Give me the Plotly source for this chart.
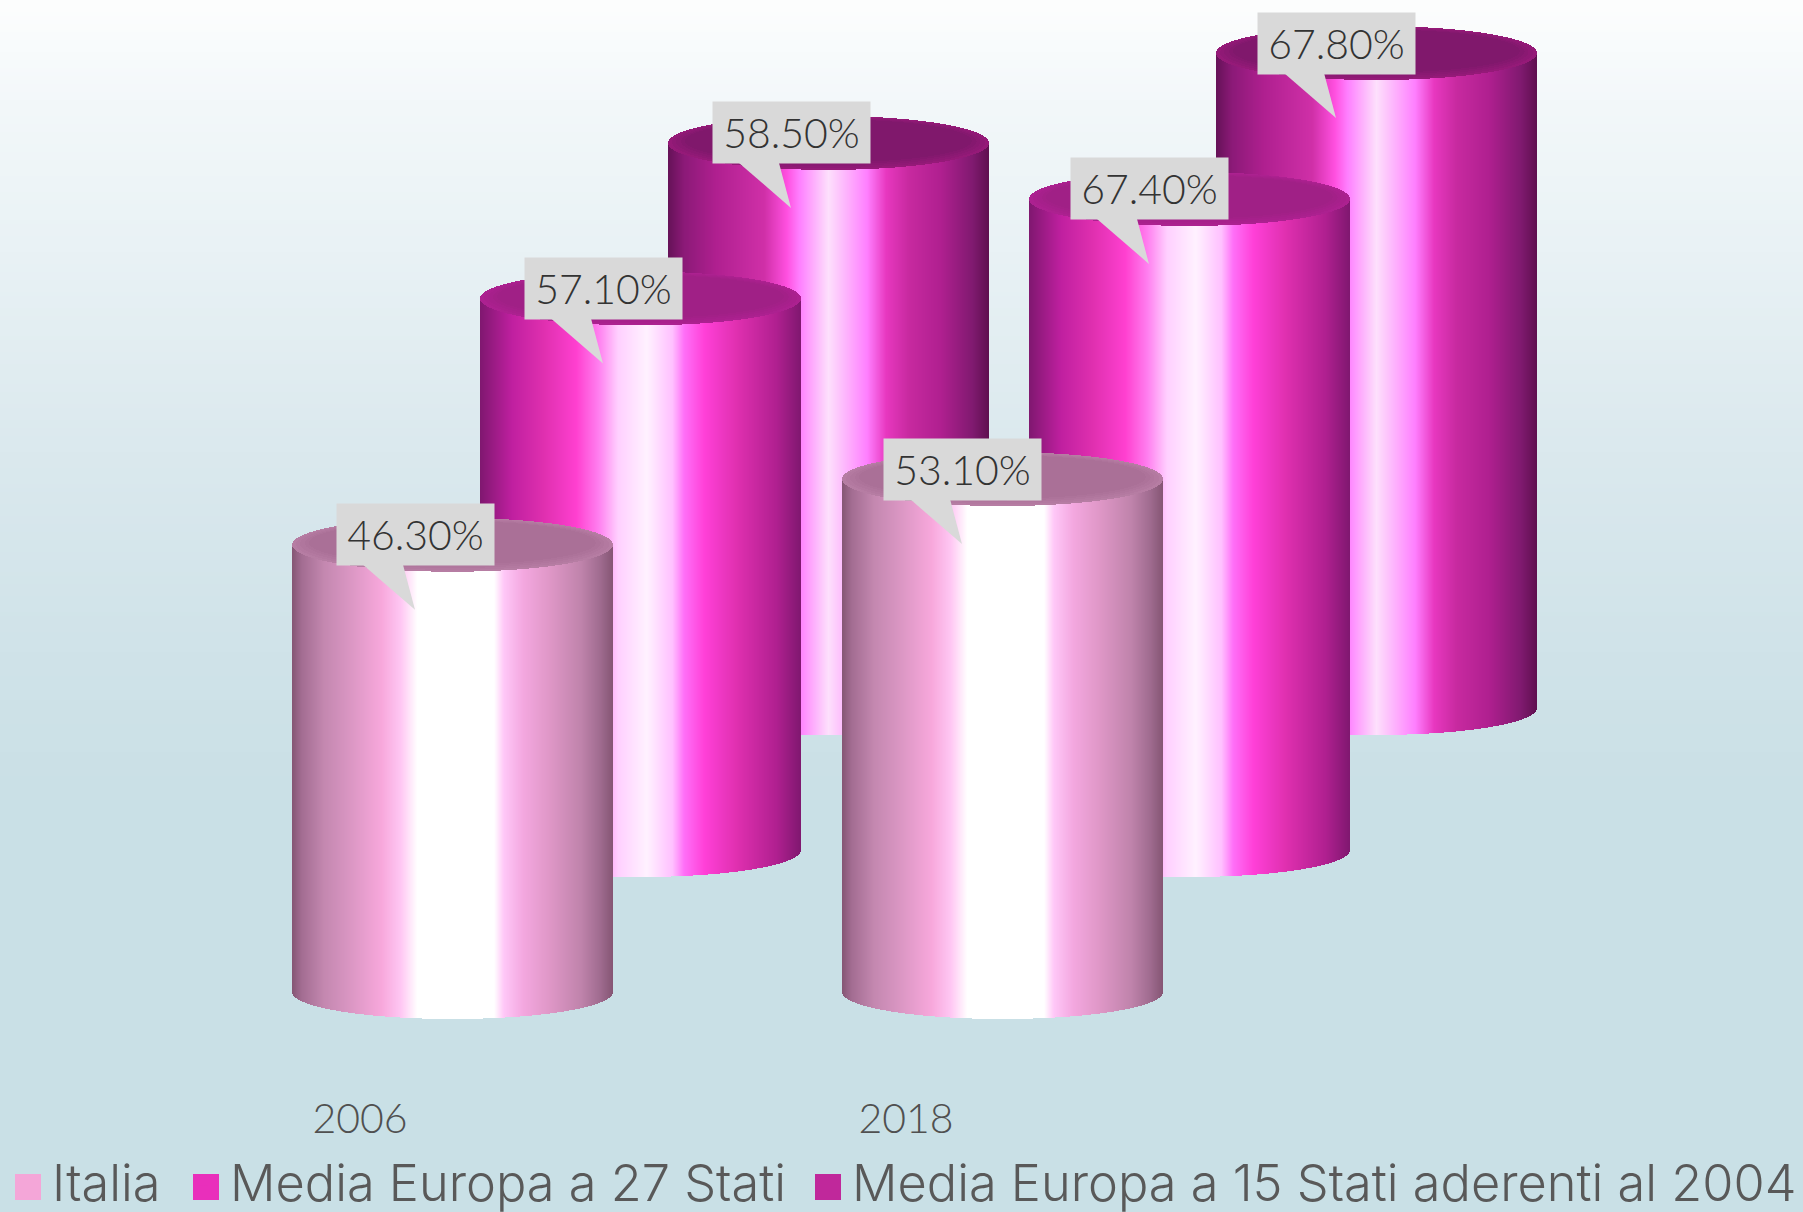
import numpy as np
import plotly.graph_objects as go

# ---------- data ----------
years = ["2006", "2018"]
series_names = ["Italia", "Media Europa a 27 Stati", "Media Europa a 15 Stati aderenti al 2004"]
italia = [46.3, 53.1]
media_27 = [57.1, 67.4]
media_15 = [58.5, 67.8]

# ---------- styles ----------
legend_colors = ["#f4a6d8", "#e92fbb", "#c0289b"]
TEXT = "#505050"
LEGEND_TEXT = "#595959"
LABEL_TEXT = "#333333"
LABEL_BG = "#d9d9d9"
FONT = "Lato"
LEGEND_FONT = "Inter"

side_stops = [
    [(0, "#855674"), (.03, "#a36d92"), (.1, "#c488b0"), (.2, "#e09ac8"), (.28, "#f8a8dc"), (.34, "#ffc8f4"),
     (.39, "#ffffff"), (.63, "#ffffff"), (.66, "#ffc8f8"), (.72, "#f4a8e0"), (.8, "#e098c8"), (.9, "#c084ac"),
     (.96, "#a06c90"), (1, "#855674")],
    [(0, "#801870"), (.1, "#c020a0"), (.2, "#e030b0"), (.3, "#ff40d0"), (.37, "#ff80f0"), (.43, "#ffd0ff"),
     (.52, "#fff2ff"), (.6, "#ffc0ff"), (.636, "#ff70f8"), (.7, "#ff40d8"), (.8, "#e030b0"), (.925, "#b02090"),
     (1, "#801870")],
    [(0, "#651258"), (.05, "#8c1a78"), (.15, "#b02090"), (.3, "#d030a8"), (.37, "#ff50e0"), (.41, "#ff80ff"),
     (.5, "#fde0fc"), (.62, "#ff80ff"), (.68, "#e838c0"), (.75, "#c82aa0"), (.85, "#b02090"), (.95, "#801a70"),
     (1, "#601050")],
]
top_outer = ["#b67da3", "#ac2190", "#951a78"]
top_inner = ["#aa7097", "#a02086", "#80186c"]

bg_stops = [(0, "#fdfefe"), (100, "#f3f8fa"), (250, "#e9f2f5"), (450, "#dbe9ee"), (650, "#d0e3e9"), (800, "#cae0e6"),
            (1212, "#c9e0e6")]
BOTTOM_BG = "#c9e0e6"

# ---------- geometry of the drawing (pixel scale of the value axis) ----------
W, H = 1803, 1212
PLOT_BOTTOM = 1079
PX_PER_UNIT = 9.66
BASE_PX = 992      # front row floor
X0 = [292, 842]    # left edge of the front cylinder per year
DX = [188, 187]    # depth step per series, per year
DY = 142
RX, RY = 160.5, 27
LABEL_DX = [45, 42]


def hex2rgb(h):
    return np.array([int(h[i:i + 2], 16) for i in (1, 3, 5)], float)


def grad(stops, t):
    ts = [s[0] for s in stops]
    cols = np.array([hex2rgb(s[1]) for s in stops])
    return np.array([np.interp(t, ts, cols[:, k]) for k in range(3)]).T


def css(a):
    return [f"rgb({int(r)},{int(g)},{int(b)})" for r, g, b in a]


def v_of_px(p):
    return (BASE_PX - p) / PX_PER_UNIT


U = 1 / PX_PER_UNIT
fig = go.Figure()

# background gradient
bg_y = np.arange(-2, PLOT_BOTTOM + 6, 4)
bg_cols = grad(bg_stops, bg_y)
fig.add_trace(go.Heatmap(
    x=[0, W], y=v_of_px(bg_y), z=[[i, i] for i in range(len(bg_y))],
    colorscale=[[i / (len(bg_y) - 1), c] for i, c in enumerate(css(bg_cols))],
    showscale=False, hoverinfo="skip", showlegend=False))

values = [italia, media_27, media_15]
labels = []

for s in (2, 1, 0):
    for yi in range(len(years)):
        val = values[s][yi]
        x_left = X0[yi] + s * DX[yi]
        floor = s * DY * U  # depth lift, in axis units
        cx = x_left + RX
        xs = np.arange(x_left + .5, x_left + 2 * RX, 1.0)
        t = (xs - x_left) / (2 * RX)
        arc = RY * np.sqrt(np.clip(1 - ((xs - cx) / RX) ** 2, 0, 1)) * U
        top = floor + val
        # side wall
        fig.add_trace(go.Bar(
            x=xs, y=(top - arc) - (floor - arc), base=floor - arc, width=1.0,
            marker=dict(color=css(grad(side_stops[s], t)), line=dict(width=0)),
            hoverinfo="skip", showlegend=False))
        # top cap: nested ellipses, rim to centre
        levels = 5
        for lv in range(levels):
            f = lv / (levels - 1)
            k = 1 - 0.11 * f
            c = (1 - f) * hex2rgb(top_outer[s]) + f * hex2rgb(top_inner[s])
            rx, ry = RX * k, RY * (1 - .2 * f)
            cy = top + 2 * f * U
            xl = np.arange(cx - rx + .5, cx + rx, 1.0)
            h = ry * np.sqrt(np.clip(1 - ((xl - cx) / rx) ** 2, 0, 1)) * U
            fig.add_trace(go.Bar(
                x=xl, y=2 * h, base=cy - h, width=1.0,
                marker=dict(color=css([c])[0], line=dict(width=0)),
                hoverinfo="skip", showlegend=False))
        labels.append((x_left + LABEL_DX[yi], top, val))

# callout pointers and boxes
annotations = []
for bx, top, val in labels:
    fig.add_trace(go.Scatter(
        x=[bx + 26, bx + 66, bx + 78, bx + 26], y=[top - 20 * U, top - 20 * U, top - 65 * U, top - 20 * U],
        mode="lines", fill="toself", fillcolor=LABEL_BG, line=dict(width=0), hoverinfo="skip", showlegend=False))
    annotations.append(dict(
        x=bx + 78.5, y=top + 10 * U, xref="x", yref="y", text=f"{val:.2f}%", showarrow=False,
        width=157, height=61, bgcolor=LABEL_BG, borderpad=0, align="center", valign="middle",
        xanchor="center", yanchor="middle", font=dict(family=FONT, size=41, color=LABEL_TEXT, weight=300)))

# legend entries
legend_x = [-2, 176, 798]
swatch_left = [15, 193, 815]
SWATCH = 26
SWATCH_CY = 1187
shapes = []
for i, name in enumerate(series_names):
    fig.add_trace(go.Scatter(
        x=[None], y=[None], name=name, mode="markers",
        marker=dict(symbol="square", size=10, color=legend_colors[i]),
        legend="legend" if i == 0 else f"legend{i + 1}"))
    shapes.append(dict(type="rect", xref="paper", yref="paper", layer="above",
                       x0=swatch_left[i] / W, x1=(swatch_left[i] + SWATCH) / W,
                       y0=(H - SWATCH_CY - SWATCH / 2) / H, y1=(H - SWATCH_CY + SWATCH / 2) / H,
                       fillcolor=legend_colors[i], line=dict(width=0)))


def legend_cfg(x):
    return dict(x=x / W, xanchor="left", y=(H - 1181) / H, yanchor="middle", orientation="h",
                bgcolor="rgba(0,0,0,0)", borderwidth=0, itemsizing="trace", itemwidth=44,
                font=dict(family=LEGEND_FONT, size=50.5, color=LEGEND_TEXT, weight=300), tracegroupgap=0)


fig.update_layout(
    width=W, height=H, margin=dict(l=0, r=0, t=0, b=0, pad=0, autoexpand=False), paper_bgcolor=BOTTOM_BG,
    plot_bgcolor=BOTTOM_BG, barmode="overlay", bargap=0, annotations=annotations, shapes=shapes, hovermode=False,
    legend=legend_cfg(legend_x[0]), legend2=legend_cfg(legend_x[1]), legend3=legend_cfg(legend_x[2]),
    xaxis=dict(range=[0, W], showgrid=False, zeroline=False, showline=False, ticks="outside", ticklen=4,
               tickcolor="rgba(0,0,0,0)", tickmode="array", tickvals=[360, 906], ticktext=years,
               tickfont=dict(family=FONT, size=41, color=TEXT, weight=300), fixedrange=True),
    yaxis=dict(range=[v_of_px(PLOT_BOTTOM), v_of_px(0)], domain=[(H - PLOT_BOTTOM) / H, 1], visible=False,
               fixedrange=True),
)

fig.write_html("out.html", config=dict(displayModeBar=False),
               post_script="document.body.style.margin='0';document.documentElement.style.overflow='hidden';")
